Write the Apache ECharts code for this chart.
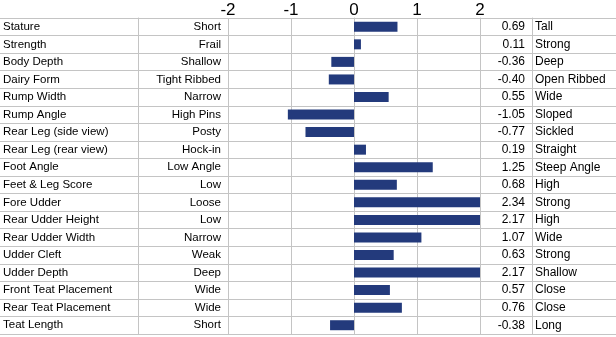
<!DOCTYPE html>
<html>
<head>
<meta charset="utf-8">
<script src="https://cdn.jsdelivr.net/npm/echarts@6/dist/echarts.min.js"></script>
<style>
  html, body { margin: 0; padding: 0; background: #fff; }
  #chart { width: 616px; height: 337px; }
</style>
</head>
<body>
<div id="chart"></div>
<script>
// trait rows, top to bottom
var traits = [
  "Stature", "Strength", "Body Depth", "Dairy Form", "Rump Width", "Rump Angle",
  "Rear Leg (side view)", "Rear Leg (rear view)", "Foot Angle", "Feet & Leg Score",
  "Fore Udder", "Rear Udder Height", "Rear Udder Width", "Udder Cleft", "Udder Depth",
  "Front Teat Placement", "Rear Teat Placement", "Teat Length"
];
var lowLabels = [
  "Short", "Frail", "Shallow", "Tight Ribbed", "Narrow", "High Pins",
  "Posty", "Hock-in", "Low Angle", "Low",
  "Loose", "Low", "Narrow", "Weak", "Deep",
  "Wide", "Wide", "Short"
];
var highLabels = [
  "Tall", "Strong", "Deep", "Open Ribbed", "Wide", "Sloped",
  "Sickled", "Straight", "Steep Angle", "High",
  "Strong", "High", "Wide", "Strong", "Shallow",
  "Close", "Close", "Long"
];
var values = [
  0.69, 0.11, -0.36, -0.40, 0.55, -1.05,
  -0.77, 0.19, 1.25, 0.68,
  2.34, 2.17, 1.07, 0.63, 2.17,
  0.57, 0.76, -0.38
];
var xTicks = [-2, -1, 0, 1, 2];

var lineColor = "#c4c4c4";
var textColor = "#000";

var chart = echarts.init(document.getElementById("chart"));

function catAxis(grid, data, extra) {
  var axis = {
    type: "category",
    gridIndex: grid,
    data: data,
    inverse: true,
    axisTick: { show: false },
    axisLine: { show: true, lineStyle: { color: lineColor, width: 1 } },
    splitLine: { show: false },
    axisLabel: { color: textColor, fontSize: 12 }
  };
  return Object.assign(axis, extra);
}

chart.setOption({
  animation: false,
  textStyle: { fontFamily: "'Liberation Sans', Arial, sans-serif" },
  grid: [
    { left: 227, right: 136, top: 18, bottom: 3 },
    { left: 0, right: 0, top: 18, bottom: 3 }
  ],
  xAxis: [
    {
      type: "value",
      gridIndex: 0,
      position: "top",
      min: xTicks[0],
      max: xTicks[xTicks.length - 1],
      interval: 1,
      axisLine: { show: false },
      axisTick: { show: false },
      axisLabel: { color: "#000", fontSize: 17, margin: -1 },
      splitLine: { show: true, lineStyle: { color: lineColor, width: 1 } }
    },
    { type: "value", gridIndex: 1, show: false }
  ],
  yAxis: [
    // low-end descriptors, line at plot left edge
    catAxis(0, lowLabels, {
      position: "left",
      offset: 0,
      axisLabel: { color: textColor, fontSize: 11.5, align: "right", margin: 7 }
    }),
    // trait names
    catAxis(0, traits, {
      position: "left",
      offset: 90,
      axisLabel: { color: textColor, fontSize: 11.5, align: "left", margin: 135 }
    }),
    // value column
    catAxis(0, values.map(function (v) { return v.toFixed(2); }), {
      position: "right",
      offset: 0,
      axisLabel: { color: textColor, fontSize: 12, align: "right", margin: 45 }
    }),
    // high-end descriptors
    catAxis(0, highLabels, {
      position: "right",
      offset: 52,
      axisLabel: { color: textColor, fontSize: 12, align: "left", margin: 3 }
    }),
    // full-width row rules
    catAxis(1, traits, {
      axisLine: { show: false },
      axisLabel: { show: false },
      splitLine: { show: true, lineStyle: { color: lineColor, width: 1 } }
    })
  ],
  series: [
    {
      type: "bar",
      xAxisIndex: 0,
      yAxisIndex: 0,
      data: values,
      barWidth: 10,
      clip: true,
      itemStyle: { color: "#233a7c" }
    }
  ]
});
</script>
</body>
</html>
